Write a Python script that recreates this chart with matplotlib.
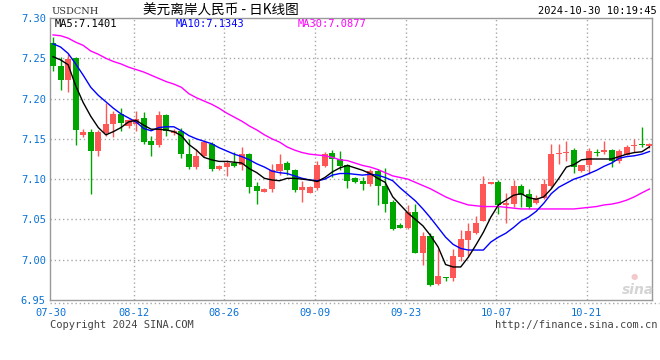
import numpy as np
import matplotlib
matplotlib.use("Agg")
import matplotlib.pyplot as plt
from matplotlib.lines import Line2D

plt.rcParams['font.family'] = ['DejaVu Sans Mono', 'Noto Sans CJK SC']

# daily candles USDCNH, 2024-07-30 .. 2024-10-30 (Mon-Sat bars)
opens = [7.269, 7.240, 7.2225, 7.250, 7.1546, 7.159, 7.135, 7.157, 7.168, 7.1806,
         7.166, 7.169, 7.1765, 7.1468, 7.1418, 7.180, 7.1575, 7.160, 7.1315, 7.115,
         7.129, 7.144, 7.1125, 7.1145, 7.1195, 7.117, 7.131, 7.091, 7.084, 7.0876,
         7.110, 7.120, 7.111, 7.086, 7.0826, 7.089, 7.116, 7.1327, 7.1253, 7.117,
         7.1009, 7.0975, 7.0938, 7.110, 7.092, 7.0715, 7.0434, 7.039, 7.059, 7.008,
         7.030, 6.9693, 6.978, 6.977, 7.0032, 7.024, 7.033, 7.048, 7.0934, 7.0963,
         7.068, 7.0686, 7.091, 7.0819, 7.070, 7.077, 7.092, 7.131, 7.1323, 7.1356,
         7.110, 7.117, 7.1335, 7.1335, 7.1356, 7.1224, 7.1294, 7.141, 7.1427, 7.1414]
highs = [7.276, 7.252, 7.2556, 7.251, 7.1617, 7.1625, 7.161, 7.194, 7.184, 7.188,
         7.175, 7.185, 7.183, 7.153, 7.184, 7.181, 7.162, 7.164, 7.150, 7.138,
         7.148, 7.1465, 7.117, 7.124, 7.1335, 7.1405, 7.1327, 7.097, 7.089, 7.119,
         7.1315, 7.123, 7.113, 7.098, 7.092, 7.123, 7.134, 7.1365, 7.1347, 7.119,
         7.1025, 7.1025, 7.1124, 7.113, 7.1137, 7.074, 7.046, 7.0674, 7.0686, 7.035,
         7.0335, 7.0136, 6.978, 7.0128, 7.0364, 7.0454, 7.0546, 7.1033, 7.097, 7.0993,
         7.083, 7.099, 7.0943, 7.088, 7.0806, 7.0996, 7.143, 7.144, 7.147, 7.139,
         7.118, 7.1385, 7.1377, 7.147, 7.138, 7.138, 7.1425, 7.150, 7.1645, 7.1445]
lows = [7.234, 7.211, 7.208, 7.142, 7.152, 7.081, 7.129, 7.153, 7.152, 7.160,
        7.164, 7.160, 7.143, 7.1285, 7.1397, 7.154, 7.155, 7.126, 7.113, 7.113,
        7.127, 7.110, 7.111, 7.1045, 7.115, 7.111, 7.0826, 7.0695, 7.0835, 7.084,
        7.1046, 7.1055, 7.084, 7.0715, 7.0826, 7.086, 7.1145, 7.1025, 7.111, 7.089,
        7.095, 7.087, 7.092, 7.0674, 7.059, 7.0365, 7.039, 7.0385, 7.008, 6.993,
        6.967, 6.968, 6.9735, 6.973, 6.999, 7.004, 7.032, 7.048, 7.0934, 7.057,
        7.0454, 7.065, 7.066, 7.063, 7.069, 7.0757, 7.0893, 7.119, 7.123, 7.1074,
        7.109, 7.1058, 7.1286, 7.1306, 7.115, 7.1203, 7.1294, 7.1335, 7.1397, 7.139]
closes = [7.240, 7.2225, 7.249, 7.161, 7.159, 7.135, 7.159, 7.169, 7.1806, 7.170,
          7.173, 7.175, 7.146, 7.1418, 7.180, 7.1596, 7.1596, 7.1315, 7.115, 7.129,
          7.146, 7.113, 7.116, 7.1195, 7.1157, 7.131, 7.090, 7.085, 7.088, 7.1117,
          7.1186, 7.111, 7.086, 7.0897, 7.0897, 7.117, 7.1315, 7.1245, 7.116, 7.0975,
          7.0963, 7.0938, 7.1096, 7.092, 7.069, 7.0385, 7.039, 7.059, 7.008, 7.030,
          6.969, 6.9804, 6.9768, 7.004, 7.0252, 7.0355, 7.0454, 7.0934, 7.0968, 7.0674,
          7.070, 7.091, 7.080, 7.065, 7.077, 7.0934, 7.1315, 7.1319, 7.1331, 7.115,
          7.117, 7.1347, 7.1327, 7.1356, 7.1224, 7.1344, 7.1405, 7.1427, 7.1418, 7.144]

# moving averages as drawn on the chart
ma5 = [7.252, 7.248, 7.242, 7.216, 7.195, 7.178, 7.164, 7.155, 7.159, 7.164,
       7.171, 7.173, 7.167, 7.162, 7.162, 7.161, 7.159, 7.154, 7.143, 7.136,
       7.127, 7.124, 7.122, 7.122, 7.121, 7.120, 7.113, 7.108, 7.101, 7.099,
       7.098, 7.101, 7.101, 7.100, 7.099, 7.097, 7.102, 7.109, 7.114, 7.117,
       7.114, 7.111, 7.107, 7.101, 7.096, 7.078, 7.068, 7.058, 7.050, 7.042,
       7.030, 7.016, 6.994, 6.991, 6.991, 7.003, 7.018, 7.034, 7.053, 7.068,
       7.074, 7.080, 7.082, 7.077, 7.075, 7.078, 7.088, 7.101, 7.115, 7.118,
       7.124, 7.125, 7.125, 7.125, 7.125, 7.128, 7.131, 7.133, 7.134, 7.1401]
ma10 = [7.268, 7.264, 7.256, 7.243, 7.229, 7.214, 7.204, 7.196, 7.188, 7.181,
        7.176, 7.171, 7.163, 7.160, 7.164, 7.165, 7.165, 7.160, 7.154, 7.150,
        7.147, 7.144, 7.139, 7.135, 7.131, 7.128, 7.124, 7.119, 7.115, 7.110,
        7.108, 7.107, 7.104, 7.101, 7.099, 7.098, 7.100, 7.105, 7.107, 7.107,
        7.106, 7.105, 7.106, 7.105, 7.102, 7.098, 7.089, 7.081, 7.073, 7.063,
        7.052, 7.040, 7.028, 7.019, 7.014, 7.012, 7.012, 7.012, 7.022, 7.028,
        7.033, 7.040, 7.048, 7.053, 7.060, 7.070, 7.082, 7.090, 7.095, 7.100,
        7.103, 7.107, 7.111, 7.116, 7.120, 7.126, 7.128, 7.129, 7.131, 7.1343]
ma30 = [7.279, 7.278, 7.275, 7.270, 7.266, 7.259, 7.255, 7.250, 7.246, 7.243,
        7.239, 7.236, 7.233, 7.229, 7.225, 7.221, 7.218, 7.214, 7.206, 7.201,
        7.197, 7.193, 7.188, 7.182, 7.177, 7.172, 7.166, 7.161, 7.155, 7.150,
        7.146, 7.140, 7.136, 7.133, 7.131, 7.130, 7.129, 7.127, 7.124, 7.123,
        7.120, 7.117, 7.115, 7.112, 7.108, 7.104, 7.102, 7.100, 7.096, 7.092,
        7.088, 7.083, 7.078, 7.074, 7.071, 7.068, 7.067, 7.066, 7.066, 7.066,
        7.065, 7.064, 7.063, 7.063, 7.063, 7.063, 7.063, 7.063, 7.063, 7.063,
        7.064, 7.065, 7.066, 7.068, 7.069, 7.071, 7.074, 7.078, 7.083, 7.0877]

date_labels = ["07-30", "08-12", "08-26", "09-09", "09-23", "10-07", "10-21"]
date_index = [0, 11, 23, 35, 47, 59, 71]
price_ticks = [6.95, 7.00, 7.05, 7.10, 7.15, 7.20, 7.25, 7.30]

W, H = 660, 360
RED = "#ff5656"
GREEN = "#00a600"
BLUE_TXT = "#0a72d6"
GRID = "#a8a8a8"

fig = plt.figure(figsize=(W / 100, H / 100), dpi=100)
ax = fig.add_axes([50 / W, 60 / H, (652 - 50) / W, 282 / H])

idx = np.arange(len(opens))
o = np.array(opens)
c = np.array(closes)
up = c >= o
cols = np.where(up, RED, GREEN)

ax.set_xlim(-0.4, 79.34)
ax.set_ylim(6.95, 7.30)

# grid
for p in price_ticks[1:-1]:
    ax.axhline(p, color=GRID, lw=1, ls=(0, (1, 2)), zorder=0)
for i in date_index[1:]:
    ax.axvline(i - 0.3, color=GRID, lw=1, ls=(0, (1, 2)), zorder=0)

# candles
ax.vlines(idx, lows, highs, colors=cols, lw=1, zorder=2)
body_h = np.maximum(np.abs(c - o), 0.0013)
ax.bar(idx, body_h, width=0.8, bottom=np.minimum(o, c), color=cols,
       linewidth=0, zorder=3)

# moving averages
ax.plot(idx, ma30, color="#ff00ff", lw=1, zorder=4)
ax.plot(idx, ma10, color="#0000ff", lw=1, zorder=4)
ax.plot(idx, ma5, color="black", lw=1, zorder=5)

for s in ax.spines.values():
    s.set_color("#999999")
    s.set_linewidth(1)

ax.set_yticks(price_ticks)
ax.set_yticklabels([f"{p:.2f}" for p in price_ticks])
ax.set_xticks([i - 0.3 for i in date_index])
ax.set_xticklabels(date_labels)
ax.tick_params(length=0, labelsize=7.5, colors=BLUE_TXT)
ax.tick_params(axis="y", pad=3)
ax.tick_params(axis="x", pad=6)

# dotted line under the box
fig.add_artist(Line2D([50 / W, 659 / W], [1 - 303 / H] * 2, color=GRID,
                      lw=1, ls=(0, (1, 2))))


def ftext(x, y, s, **kw):
    fig.text(x / W, 1 - y / H, s, va="center", **kw)


ftext(52, 11, "USDCNH", fontsize=7, color="#333333", family="DejaVu Serif")
ftext(143, 11, "美元离岸人民币 - 日K线图", fontsize=9.8, color="black",
      family=["Noto Sans CJK SC", "DejaVu Sans"])
ftext(657, 11, "2024-10-30 10:19:45", fontsize=7.5, color="black", ha="right")

ftext(55, 24, "MA5:7.1401", fontsize=7.5, color="black")
ftext(176, 24, "MA10:7.1343", fontsize=7.5, color="#0000ff")
ftext(298, 24, "MA30:7.0877", fontsize=7.5, color="#ff00ff")

ftext(50, 325, "Copyright 2024 SINA.COM", fontsize=7.5, color="#444444")
ftext(657, 325, "http://finance.sina.com.cn", fontsize=7.5, color="#444444",
      ha="right")

# faint logo
ftext(634, 276, "\u25cf", fontsize=6, color="#f2caca", ha="center",
      family="DejaVu Sans")
ftext(638, 290, "sina", fontsize=10, color="#d4d4d4", ha="center",
      style="italic", weight="bold", family="DejaVu Sans")

fig.savefig("out.png", dpi=100)
